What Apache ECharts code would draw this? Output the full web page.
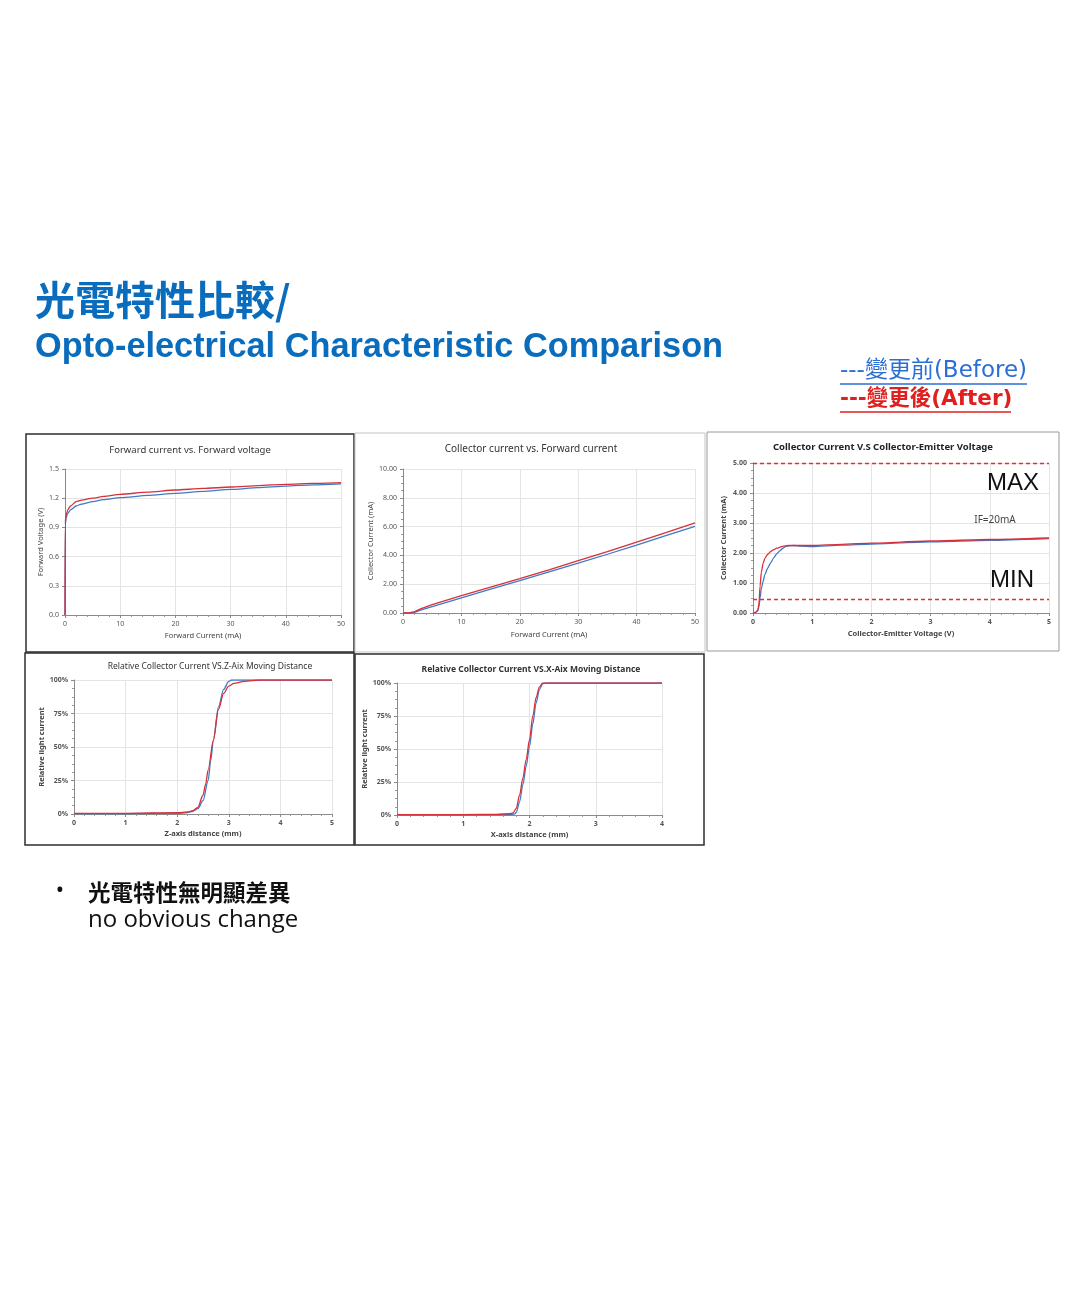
<!DOCTYPE html>
<html><head><meta charset="utf-8">
<script src="https://cdn.jsdelivr.net/npm/echarts@6/dist/echarts.min.js"></script>
<style>html,body{margin:0;padding:0;background:#fff}#c{width:1080px;height:1293px}</style>
</head><body><div id="c"></div>
<script>
// ---- Chart 1: Forward voltage (V) vs forward current (mA)
const vfBefore = [[0,0],[0.05,0.93],[0.2,1.0],[0.5,1.045],[1,1.08],[2,1.12],[3,1.14],[5,1.165],[7,1.185],[10,1.205],[15,1.228],[20,1.25],[25,1.27],[30,1.29],[35,1.308],[40,1.325],[45,1.337],[50,1.347]];
const vfAfter  = [[0,0],[0.05,0.95],[0.2,1.03],[0.5,1.08],[1,1.12],[2,1.164],[3,1.18],[5,1.2],[7,1.218],[10,1.24],[15,1.262],[20,1.284],[25,1.3],[30,1.315],[35,1.33],[40,1.342],[45,1.352],[50,1.36]];
const vfYTicks = [0, 0.3, 0.6, 0.9, 1.2, 1.5];
// ---- Chart 2: Collector current (mA) vs forward current (mA)
const icIfBefore = [[0,0],[1,0],[2,0.05],[3,0.2],[5,0.45],[10,1.05],[15,1.65],[20,2.24],[25,2.85],[30,3.46],[35,4.08],[40,4.72],[45,5.37],[50,6.02]];
const icIfAfter  = [[0,0],[1,0],[2,0.1],[3,0.28],[5,0.58],[10,1.2],[15,1.8],[20,2.38],[25,3.0],[30,3.63],[35,4.27],[40,4.92],[45,5.58],[50,6.26]];
// ---- Chart 3: Collector current (mA) vs collector-emitter voltage (V)
const icVceBefore = [[0,0],[0.04,0.02],[0.08,0.08],[0.1,0.2],[0.12,0.5],[0.14,0.8],[0.17,1.05],[0.2,1.28],[0.25,1.5],[0.3,1.68],[0.35,1.84],[0.4,1.97],[0.45,2.07],[0.5,2.15],[0.55,2.21],[0.6,2.24],[0.7,2.25],[0.8,2.23],[1,2.21],[1.5,2.26],[2,2.3],[3,2.37],[4,2.42],[5,2.48]];
const icVceAfter  = [[0,0],[0.04,0.01],[0.08,0.08],[0.1,0.3],[0.12,0.9],[0.14,1.35],[0.17,1.65],[0.2,1.82],[0.25,1.96],[0.3,2.05],[0.35,2.11],[0.4,2.16],[0.5,2.22],[0.6,2.25],[0.8,2.25],[1,2.25],[1.5,2.29],[2,2.33],[3,2.4],[4,2.45],[5,2.5]];
const icVceLimits = [5.0, 0.45];   // MAX / MIN dashed limits (mA)
// ---- Chart 4: Relative light current (%) vs Z-axis distance (mm)
const zBefore = [[0,0.3],[1,0.3],[2,0.5],[2.2,1],[2.3,2],[2.4,4],[2.5,10],[2.6,25],[2.65,40],[2.7,55],[2.8,80],[2.9,93],[3.0,99],[3.05,100],[5,100]];
const zAfter  = [[0,0.5],[1,0.5],[2,1],[2.2,1.5],[2.3,2.5],[2.4,5],[2.5,14],[2.55,22],[2.6,33],[2.7,55],[2.8,78],[2.9,90],[3.0,95.5],[3.1,97.5],[3.3,99],[3.6,100],[5,100]];
// ---- Chart 5: Relative light current (%) vs X-axis distance (mm)
const xBefore = [[0,0],[1,0],[1.7,0.3],[1.78,0.8],[1.8,2],[1.85,10],[1.9,23],[1.95,37],[2.0,52],[2.05,69],[2.1,85],[2.15,95],[2.2,99.5],[2.25,100],[4,100]];
const xAfter  = [[0,0.3],[1,0.3],[1.5,0.5],[1.7,1],[1.75,1.5],[1.8,5],[1.85,15],[1.9,28],[1.95,42],[2.0,57],[2.05,75],[2.1,89],[2.15,97],[2.2,100],[4,100]];
const pctTicks = [0, 25, 50, 75, 100];

const BLUE = '#3f7bc4', RED = '#d8303a';
const LF = 'Noto Sans';

function xAx(g, min, max, interval, name, gap, bold, fmt) {
  return {
    type: 'value', gridIndex: g, min, max, interval,
    name, nameLocation: 'middle', nameGap: gap,
    nameTextStyle: { fontSize: 7.5, color: '#444', fontFamily: LF, fontWeight: bold ? 'bold' : 'normal' },
    axisLine: { show: true, onZero: false, lineStyle: { color: '#8a8a8a', width: 1 } },
    axisTick: { show: true, length: 3, lineStyle: { color: '#8a8a8a' } },
    minorTick: { show: true, splitNumber: 5, length: 2, lineStyle: { color: '#999' } },
    axisLabel: { fontSize: 7, color: '#555', margin: 5, fontFamily: LF, fontWeight: bold ? 'bold' : 'normal', formatter: fmt },
    splitLine: { show: true, lineStyle: { color: '#e4e4e4', width: 1 } }
  };
}
function yAx(g, min, max, interval, name, gap, bold, fmt, minor) {
  return {
    type: 'value', gridIndex: g, min, max, interval,
    name, nameLocation: 'middle', nameGap: gap, nameRotate: 90,
    nameTextStyle: { fontSize: 7.5, color: '#444', fontFamily: LF, fontWeight: bold ? 'bold' : 'normal' },
    axisLine: { show: true, lineStyle: { color: '#8a8a8a', width: 1 } },
    axisTick: { show: true, length: 3, lineStyle: { color: '#8a8a8a' } },
    minorTick: { show: !!minor, splitNumber: 4, length: 2, lineStyle: { color: '#999' } },
    axisLabel: { fontSize: 7, color: '#555', margin: 6, fontFamily: LF, fontWeight: bold ? 'bold' : 'normal', formatter: fmt },
    splitLine: { show: true, lineStyle: { color: '#e4e4e4', width: 1 } }
  };
}
function ln(g, data, color, extra) {
  return Object.assign({
    type: 'line', xAxisIndex: g, yAxisIndex: g, data, showSymbol: false,
    smooth: 0.3, smoothMonotone: 'x',
    lineStyle: { color, width: 1.3 }, itemStyle: { color }, z: 3
  }, extra || {});
}
const f1 = v => v.toFixed(1), f2 = v => v.toFixed(2), fp = v => Math.round(v) + '%';

function txt(x, y, text, size, style) {
  return {
    type: 'text', x, y, silent: true, z: 100,
    style: Object.assign({ text, fontSize: size, fontFamily: LF, fill: '#333', align: 'center', verticalAlign: 'middle' }, style || {})
  };
}
function box(x, y, w, h, stroke, lw) {
  return { type: 'rect', shape: { x, y, width: w, height: h }, silent: true, z: 0,
    style: { fill: 'none', stroke, lineWidth: lw } };
}
function hline(x1, x2, y, color, lw) {
  return { type: 'line', shape: { x1, y1: y, x2, y2: y }, silent: true, z: 100, style: { stroke: color, lineWidth: lw } };
}

const option = {
  backgroundColor: '#ffffff',
  animation: false,
  grid: [
    { left: 65, top: 469, width: 276, height: 146 },
    { left: 403, top: 469, width: 292, height: 144 },
    { left: 753, top: 463, width: 296, height: 150 },
    { left: 74, top: 680, width: 258, height: 134 },
    { left: 397, top: 683, width: 265, height: 132 }
  ],
  xAxis: [
    xAx(0, 0, 50, 10, 'Forward Current (mA)', 17, false),
    xAx(1, 0, 50, 10, 'Forward Current (mA)', 18, false),
    xAx(2, 0, 5, 1, 'Collector-Emitter Voltage (V)', 17, true),
    xAx(3, 0, 5, 1, 'Z-axis distance (mm)', 16, true),
    xAx(4, 0, 4, 1, 'X-axis distance (mm)', 16, true)
  ],
  yAxis: [
    yAx(0, vfYTicks[0], vfYTicks[vfYTicks.length - 1], 0.3, 'Forward Voltage (V)', 19, false, f1, false),
    yAx(1, 0, 10, 2, 'Collector Current (mA)', 26, false, f2, true),
    yAx(2, 0, 5, 1, 'Collector Current (mA)', 25, true, f2, true),
    yAx(3, pctTicks[0], pctTicks[pctTicks.length - 1], 25, 'Relative light current', 28, true, fp, true),
    yAx(4, pctTicks[0], pctTicks[pctTicks.length - 1], 25, 'Relative light current', 27, true, fp, true)
  ],
  series: [
    ln(0, vfBefore, BLUE, { smooth: 0.2 }),
    ln(0, vfAfter, RED, { smooth: 0.2 }),
    ln(1, icIfBefore, BLUE, { smooth: false }),
    ln(1, icIfAfter, RED, { smooth: false }),
    ln(2, icVceBefore, BLUE, { smooth: 0.2 }),
    ln(2, icVceAfter, RED, {
      smooth: 0.2,
      markLine: {
        silent: true, symbol: 'none', label: { show: false },
        lineStyle: { color: '#e03030', type: [4, 3], width: 1.3 },
        data: icVceLimits.map(v => ({ yAxis: v }))
      }
    }),
    ln(3, zBefore, BLUE),
    ln(3, zAfter, RED),
    ln(4, xBefore, BLUE),
    ln(4, xAfter, RED)
  ],
  graphic: [
    // panel frames
    box(26, 434, 328, 218, '#2e2e2e', 1.5),
    box(355, 433, 350, 219, '#c4c4c4', 1),
    box(707, 432, 352, 219, '#9a9a9a', 1),
    box(25, 653, 329, 192, '#2e2e2e', 1.5),
    box(355, 654, 349, 191, '#2e2e2e', 1.5),
    // slide title
    txt(35, 300, '光電特性比較/', 40, { align: 'left', fill: '#0a6cbd', fontWeight: 'bold', fontFamily: 'Noto Sans CJK TC' }),
    txt(35, 348, 'Opto-electrical Characteristic Comparison', 34.3, { align: 'left', fill: '#0a6cbd', fontWeight: 'bold', fontFamily: 'Liberation Sans' }),
    // legend
    txt(840, 371, '---變更前(Before)', 23, { align: 'left', fill: '#2a6fd6', fontFamily: '"DejaVu Sans", "Noto Sans CJK TC"' }),
    hline(840, 1027, 384, '#2a6fd6', 1.5),
    txt(840, 399, '---變更後(After)', 21.5, { align: 'left', fill: '#e0201f', fontWeight: 'bold', fontFamily: '"DejaVu Sans", "Noto Sans CJK TC"' }),
    hline(840, 1011, 412, '#e0201f', 1.5),
    // chart titles
    txt(190, 450, 'Forward current vs. Forward voltage', 9.5, { fill: '#333' }),
    txt(531, 449, 'Collector current vs. Forward current', 10, { fill: '#333' }),
    txt(883, 447, 'Collector Current V.S Collector-Emitter Voltage', 9.5, { fill: '#222', fontWeight: 'bold' }),
    txt(210, 667, 'Relative Collector Current VS.Z-Aix Moving Distance', 8.5, { fill: '#333' }),
    txt(531, 670, 'Relative Collector Current VS.X-Aix Moving Distance', 8.5, { fill: '#333', fontWeight: 'bold' }),
    // chart 3 annotations
    txt(1013, 483, 'MAX', 24, { fill: '#111', fontFamily: 'Liberation Sans' }),
    txt(1012, 580, 'MIN', 24, { fill: '#111', fontFamily: 'Liberation Sans' }),
    txt(995, 520, 'IF=20mA', 10, { fill: '#444' }),
    // bullet
    txt(60, 891, '•', 22, { fill: '#111' }),
    txt(88, 892, '光電特性無明顯差異', 22.5, { align: 'left', fill: '#111', fontWeight: 'bold', fontFamily: 'Noto Sans CJK TC' }),
    txt(88, 920, 'no obvious change', 24, { align: 'left', fill: '#111', fontFamily: 'Open Sans' })
  ]
};
const chart = echarts.init(document.getElementById('c'));
chart.setOption(option);
</script>
</body></html>
